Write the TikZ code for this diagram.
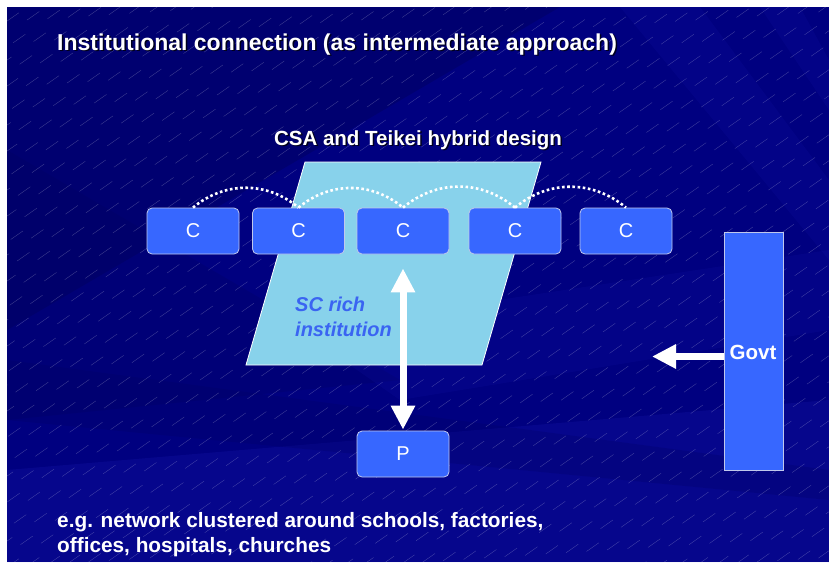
\documentclass[tikz,border=0pt]{standalone}
\usepackage{fontspec}
\setmainfont{Liberation Sans}
\usetikzlibrary{arrows.meta,calc}

\definecolor{navybg}{HTML}{000080}
\definecolor{navydark}{HTML}{00005E}
\definecolor{navylight}{HTML}{1A1AB0}
\definecolor{boxblue}{HTML}{3767FF}
\definecolor{boxedge}{HTML}{C0C8EC}
\definecolor{skyfill}{HTML}{88D2EB}
\definecolor{labelblue}{HTML}{3A64F2}

\tikzset{
  cbox/.style={draw=boxedge, line width=0.8pt, fill=boxblue, rounded corners=5pt,
    minimum width=92pt, minimum height=46pt, inner sep=0pt, text=white,
    font=\fontsize{20}{24}\selectfont},
  govtbox/.style={draw=boxedge, line width=0.8pt, fill=boxblue,
    minimum width=59pt, minimum height=238pt, inner sep=0pt},
  dotarc/.style={white, line width=2.6pt, dash pattern=on 2.6pt off 2.6pt, bend left=40},
  fatarrow/.style={white, line width=7pt,
    -{Triangle[width=23pt,length=24pt]}},
  dblarrow/.style={white, line width=7pt,
    {Triangle[width=23pt,length=24pt]}-{Triangle[width=23pt,length=24pt]}},
  headline/.style={text=white, font=\fontsize{23}{27}\selectfont\bfseries, inner sep=0pt},
  subhead/.style={text=white, font=\fontsize{20.5}{25}\selectfont\bfseries, inner sep=0pt},
  shadowtext/.style={text=black, opacity=0.75},
  bodytext/.style={text=white, font=\fontsize{20.8}{25}\selectfont\bfseries, inner sep=0pt},
  sctext/.style={text=labelblue, font=\fontsize{20}{25}\selectfont\bfseries\itshape, inner sep=0pt},
  texture/.style={white, opacity=0.26, line width=0.35pt, dash pattern=on 15pt off 27pt},
}

\begin{document}
\begin{tikzpicture}[x=1pt, y=-1pt]
  \useasboundingbox (0,0) rectangle (829,562);
  \fill[white] (0,0) rectangle (829,562);

  % slide background with soft rays and hatched texture
  \begin{scope}
    \clip (7,7) rectangle (829,562);
    \fill[navybg] (7,7) rectangle (829,562);
    \fill[navydark, opacity=0.45] (7,7) -- (560,7) -- (7,330) -- cycle;
    \fill[navydark, opacity=0.25] (7,150) -- (400,380) -- (7,420) -- cycle;
    \fill[navylight, opacity=0.25] (7,470) -- (829,400) -- (829,562) -- (7,562) -- cycle;
    \fill[navylight, opacity=0.15] (620,7) -- (700,7) -- (829,180) -- (829,260) -- cycle;
    \fill[navylight, opacity=0.15] (760,7) -- (800,7) -- (829,60) -- (829,110) -- cycle;
    \fill[navylight, opacity=0.15] (300,330) -- (829,250) -- (829,330) -- (400,400) -- cycle;
    \fill[navydark, opacity=0.22] (7,360) -- (829,470) -- (829,500) -- (7,420) -- cycle;
    \foreach \c [evaluate=\c as \ph using {mod(\c*11,42)}] in {0,13,...,1190}
      \draw[texture, dash phase=\ph pt] (0,\c) -- (900,\c-630);
  \end{scope}

  % titles
  \node[headline, shadowtext, anchor=base west] at (58.5,51.5)
    {Institutional connection (as intermediate approach)};
  \node[headline, anchor=base west] (title) at (57,50)
    {Institutional connection (as intermediate approach)};
  \node[subhead, shadowtext, anchor=base] at (419.5,146.5) {CSA and Teikei hybrid design};
  \node[subhead, anchor=base] (hybrid) at (418,145) {CSA and Teikei hybrid design};

  % institution parallelogram
  \draw[white, line width=0.8pt, fill=skyfill]
    (305,162) -- (541,162) -- (482,365) -- (246,365) -- cycle;
  \node[sctext, anchor=base west] (scrich) at (295,311) {SC rich};
  \node[sctext, anchor=base west] (scinst) at (295,336) {institution};

  % consumer boxes
  \node[cbox] (c1) at (193,231) {C};
  \node[cbox] (c2) at (298.5,231) {C};
  \node[cbox] (c3) at (403,231) {C};
  \node[cbox] (c4) at (515,231) {C};
  \node[cbox] (c5) at (626,231) {C};

  % dotted links between consumers
  \draw[dotarc] (c1.north) to (c2.north);
  \draw[dotarc] (c2.north) to (c3.north);
  \draw[dotarc] (c3.north) to (c4.north);
  \draw[dotarc] (c4.north) to (c5.north);

  % producer
  \node[cbox] (p) at (403,454) {P};
  \draw[dblarrow, shorten <=14pt, shorten >=1pt] (c3.south) -- (p.north);

  % government
  \node[govtbox] (govt) at (753.5,351) {};
  \node[subhead, anchor=center] (govtlabel) at (753,352) {Govt};
  \coordinate (govtgoal) at (652,356.5);
  \draw[fatarrow] (govt.west |- govtgoal) -- (govtgoal);

  % footnote
  \node[bodytext, anchor=base west] (note1) at (57,527)
    {e.g. network clustered around schools, factories,};
  \node[bodytext, anchor=base west] (note2) at (57,552)
    {offices, hospitals, churches};
\end{tikzpicture}
\end{document}
